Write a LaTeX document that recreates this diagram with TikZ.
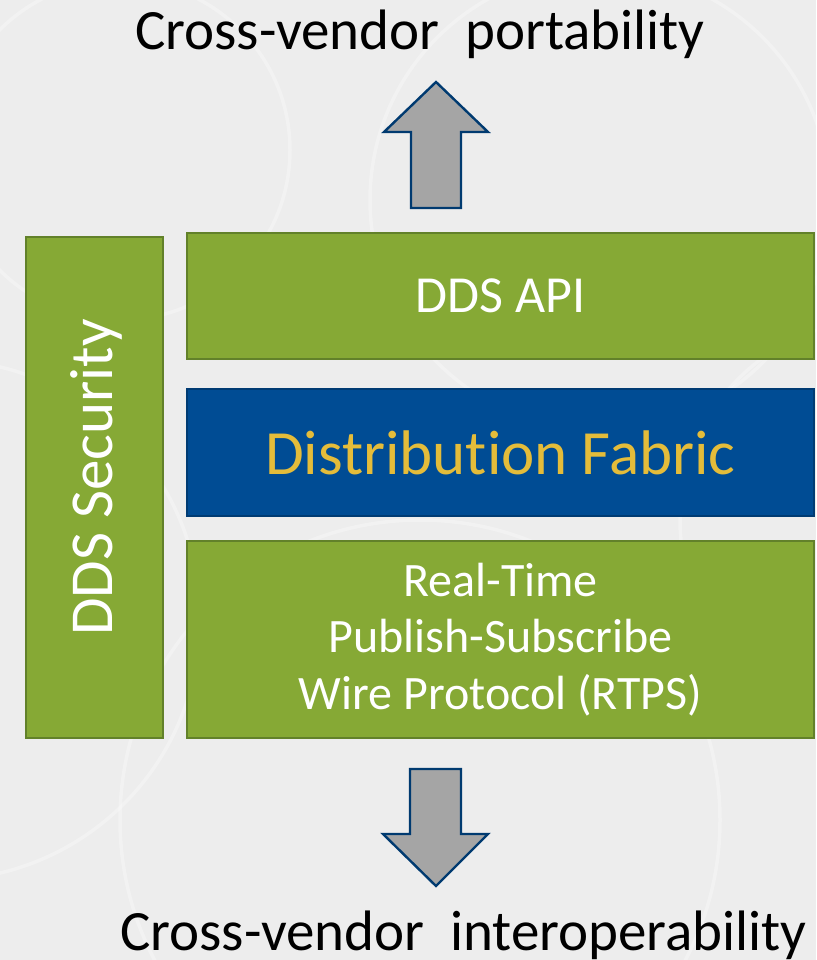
\documentclass[tikz,border=0pt]{standalone}
\usepackage{fontspec}
\setmainfont{Carlito}[Ligatures=NoCommon]
\definecolor{bgGray}{HTML}{EDEDED}
\definecolor{leafGreen}{HTML}{86A935}
\definecolor{leafEdge}{HTML}{62812A}
\definecolor{fabricBlue}{HTML}{004C94}
\definecolor{fabricEdge}{HTML}{003B73}
\definecolor{fabricGold}{HTML}{E4BC3A}
\definecolor{arrowGray}{HTML}{A5A5A5}
\definecolor{arrowEdge}{HTML}{003A70}
\tikzset{
  layerbox/.style={draw=leafEdge, fill=leafGreen, line width=2pt, inner sep=0pt,
    text=white, align=center},
  fabricbox/.style={draw=fabricEdge, fill=fabricBlue, line width=2pt, inner sep=0pt,
    text=fabricGold},
  blockarrow/.style={draw=arrowEdge, fill=arrowGray, line width=2.4pt, line join=miter},
  caption/.style={inner sep=0pt, anchor=base, text=black},
  faintline/.style={draw=white, opacity=0.3, line width=3.5pt}
}
\begin{document}
\begin{tikzpicture}[x=1pt, y=-1pt]
  % canvas
  \fill[bgGray] (0,0) rectangle (816,960);
  \useasboundingbox (0,0) rectangle (816,960);

  % faint network pattern in the background
  \begin{scope}
    \clip (0,0) rectangle (816,960);
    \draw[faintline] (600,200) circle (230);
    \draw[faintline] (120,150) circle (170);
    \draw[faintline] (420,820) circle (300);
    \draw[faintline] (-60,620) circle (260);
    \draw[faintline] (880,520) circle (200);
  \end{scope}

  % stack of layers
  \node[layerbox, minimum width=137pt, minimum height=501pt] (security) at (94.5,487.5) {};
  \node[text=white, rotate=90, inner sep=0pt, font=\fontsize{61}{61}\selectfont]
    (securitytext) at (96,477.5) {DDS Security};

  \node[layerbox, minimum width=627pt, minimum height=126pt,
        font=\fontsize{52}{52}\selectfont] (api) at (500.5,296) {DDS API};

  \node[fabricbox, minimum width=627pt, minimum height=127pt,
        font=\fontsize{63}{63}\selectfont] (fabric) at (500.5,452.5) {Distribution Fabric};

  \node[layerbox, minimum width=627pt, minimum height=197pt,
        font=\fontsize{48}{56.5}\selectfont] (rtps) at (500.5,639.5)
        {Real-Time\\Publish-Subscribe\\Wire Protocol (RTPS)};

  % captions
  \node[caption, font=\fontsize{57}{57}\selectfont] (portability) at (420,50)
    {Cross-vendor\ \ portability};
  \node[caption, font=\fontsize{57}{57}\selectfont] (interop) at (463.5,950)
    {Cross-vendor\ \ interoperability};

  % block arrows
  \draw[blockarrow] (411,208) -- (411,132) -- (384,132) -- (436,82) -- (488,132)
    -- (461,132) -- (461,208) -- cycle;
  \draw[blockarrow] (410,769) -- (461,769) -- (461,834) -- (488,834) -- (436,886)
    -- (383,834) -- (410,834) -- cycle;
\end{tikzpicture}
\end{document}
